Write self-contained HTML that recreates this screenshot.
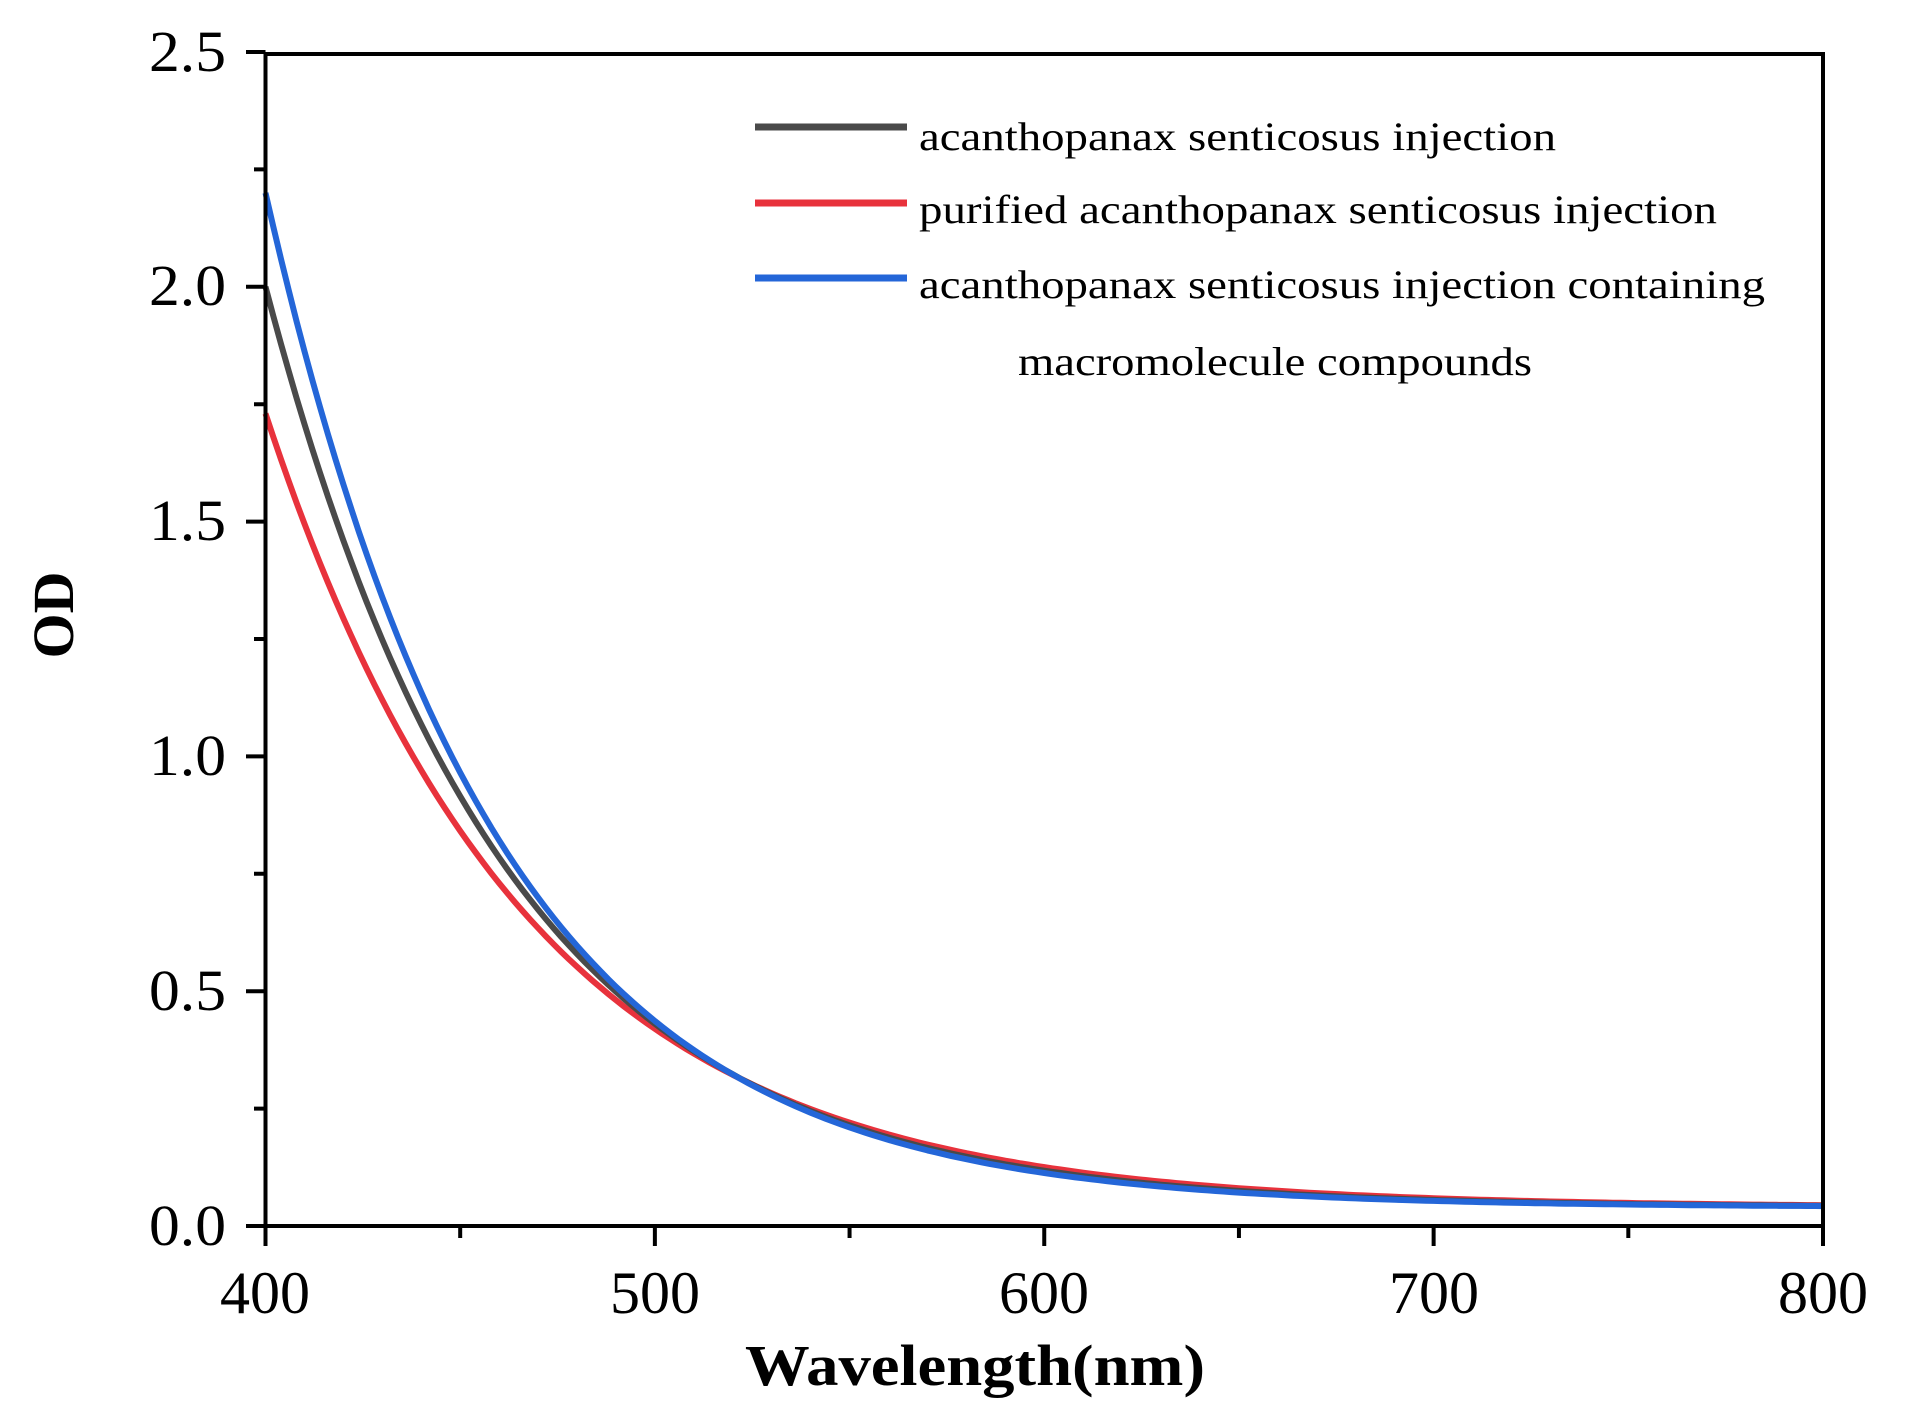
<!DOCTYPE html>
<html><head><meta charset="utf-8"><style>html,body{margin:0;padding:0;background:#fff}svg{display:block}</style></head>
<body>
<svg id="s" width="1910" height="1428" xmlns="http://www.w3.org/2000/svg" font-family="Liberation Serif, serif">
<g id="curves" fill="none" stroke-width="6" stroke-linejoin="round"></g>
<g stroke="#000" stroke-width="4" fill="none">
<path d="M265.5 52 V1228 M263 1226 H1825 M265.5 54 H1823 M1823 52 V1228"/>
<path id="ticks" d=""/>
</g>
<g font-size="58" text-anchor="end" fill="#000">
<text x="226" y="305" textLength="77" lengthAdjust="spacingAndGlyphs">2.0</text>
<text x="226" y="71" textLength="77" lengthAdjust="spacingAndGlyphs">2.5</text>
<text x="226" y="540" textLength="77" lengthAdjust="spacingAndGlyphs">1.5</text>
<text x="226" y="775" textLength="77" lengthAdjust="spacingAndGlyphs">1.0</text>
<text x="226" y="1010" textLength="77" lengthAdjust="spacingAndGlyphs">0.5</text>
<text x="226" y="1245" textLength="77" lengthAdjust="spacingAndGlyphs">0.0</text>
</g>
<g font-size="60" text-anchor="middle" fill="#000">
<text x="265" y="1313">400</text><text x="655" y="1313">500</text><text x="1044" y="1313">600</text><text x="1434" y="1313">700</text><text x="1823" y="1313">800</text>
</g>
<text x="745" y="1385" font-size="58" font-weight="bold" textLength="460" lengthAdjust="spacingAndGlyphs">Wavelength(nm)</text>
<text transform="translate(73,615) rotate(-90)" text-anchor="middle" font-size="58" font-weight="bold">OD</text>
<g stroke-width="7">
<line x1="755" y1="127" x2="907" y2="127" stroke="#4a4a4a"/>
<line x1="755" y1="203" x2="907" y2="203" stroke="#e8323c"/>
<line x1="755" y1="278" x2="907" y2="278" stroke="#2466d8"/>
</g>
<g font-size="40" fill="#000">
<text x="919" y="150" textLength="637" lengthAdjust="spacingAndGlyphs">acanthopanax senticosus injection</text>
<text x="919" y="223" textLength="798" lengthAdjust="spacingAndGlyphs">purified acanthopanax senticosus injection</text>
<text x="919" y="298" textLength="846" lengthAdjust="spacingAndGlyphs">acanthopanax senticosus injection containing</text>
<text x="1018" y="375" textLength="514" lengthAdjust="spacingAndGlyphs">macromolecule compounds</text>
</g>
<script>
(function(){
var X=function(w){return 265.5+(w-400)*1557.5/400},Y=function(v){return 1226-v*1174/2.5};
var t='';
for(var i=0;i<=10;i++){var y=Y(i*0.25);t+='M'+(i%2?254:246)+' '+y+' H265.5 ';}
for(var i=0;i<=8;i++){var x=X(400+i*50);t+='M'+x+' 1226 V'+(i%2?1238:1246)+' ';}
document.getElementById('ticks').setAttribute('d',t);
var S=[['#e8323c',1.69,67],['#4a4a4a',1.96,62],['#2466d8',2.16,59]];
var g=document.getElementById('curves');
S.forEach(function(s){var d='';for(var w=400;w<=800;w+=2){var v=0.04+s[1]*Math.exp(-(w-400)/s[2]);d+=(w==400?'M':'L')+X(w).toFixed(1)+' '+Y(v).toFixed(1);}
var p=document.createElementNS('http://www.w3.org/2000/svg','path');p.setAttribute('d',d);p.setAttribute('stroke',s[0]);g.appendChild(p);});
})();
</script>
</svg>
</body></html>
